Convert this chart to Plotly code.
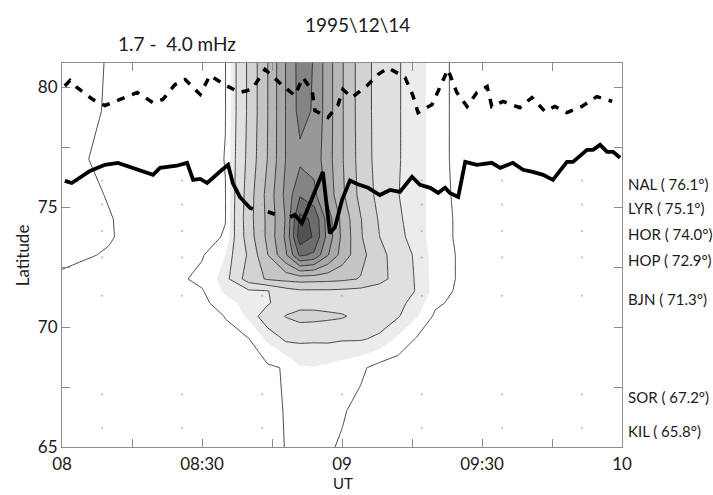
import plotly.graph_objects as go

# ---------------- data ----------------
# grid times (minutes after 08:00 UT) and latitudes of the gridded pulsation power
grid_minutes = [0, 5, 10, 15, 20, 25, 30, 35, 40, 44, 48, 51, 54, 57, 60, 64, 68, 72, 76, 80, 85, 90, 100, 110, 120]
grid_lats = [65, 66.5, 68.3, 69.5, 70.45, 71.0, 71.5, 72.0, 73.0, 73.75, 74.5, 75.5, 77, 79, 81]
power = [
    [1.5, 1.5, 1.5, 1.55, 1.55, 1.6, 1.65, 1.7, 1.8, 1.9, 2.01, 2.1, 2.1, 2.05, 1.95, 1.8, 1.7, 1.65, 1.6, 1.6, 1.6, 1.6, 1.6, 1.6, 1.6],
    [1.5, 1.5, 1.5, 1.55, 1.55, 1.6, 1.65, 1.7, 1.8, 1.9, 2.02, 2.2, 2.2, 2.15, 2.05, 1.85, 1.7, 1.65, 1.6, 1.6, 1.6, 1.6, 1.6, 1.6, 1.6],
    [1.4, 1.45, 1.5, 1.5, 1.55, 1.6, 1.65, 1.7, 1.8, 1.9, 2.05, 2.45, 2.48, 2.4, 2.3, 2.1, 1.8, 1.7, 1.65, 1.6, 1.6, 1.6, 1.6, 1.6, 1.6],
    [1.35, 1.4, 1.45, 1.5, 1.55, 1.6, 1.7, 1.85, 1.98, 2.6, 3.1, 3.1, 3.08, 3.1, 3.05, 3.05, 2.9, 2.4, 1.95, 1.75, 1.65, 1.6, 1.6, 1.6, 1.6],
    [1.3, 1.35, 1.4, 1.45, 1.5, 1.55, 1.7, 2.02, 2.6, 3.4, 4.05, 4.35, 4.3, 4.2, 4.1, 3.7, 3.3, 3.05, 2.55, 1.9, 1.7, 1.6, 1.6, 1.6, 1.6],
    [1.3, 1.35, 1.4, 1.45, 1.5, 1.65, 1.85, 2.3, 2.7, 2.9, 3.45, 3.6, 3.65, 3.6, 3.55, 3.5, 3.35, 3.15, 2.8, 2.1, 1.85, 1.7, 1.6, 1.6, 1.6],
    [1.25, 1.3, 1.35, 1.45, 1.5, 1.7, 1.95, 2.6, 2.85, 2.95, 3.6, 3.85, 3.85, 3.85, 3.8, 3.7, 3.5, 3.25, 2.97, 2.3, 1.9, 1.75, 1.6, 1.6, 1.6],
    [1.1, 1.2, 1.3, 1.4, 1.55, 1.9, 2.15, 2.7, 4.5, 5.1, 5.3, 5.4, 5.35, 5.3, 5.2, 4.95, 4.35, 3.6, 2.9, 2.3, 1.95, 1.75, 1.6, 1.6, 1.6],
    [0.85, 0.95, 1.05, 1.3, 1.5, 1.75, 1.95, 2.5, 4.15, 5.95, 7.9, 10.2, 9.8, 8.05, 6.6, 5.3, 4.35, 3.5, 2.85, 2.3, 1.95, 1.75, 1.6, 1.6, 1.6],
    [0.75, 0.85, 0.95, 1.15, 1.4, 1.6, 1.8, 2.05, 4.5, 6.2, 8.2, 11.6, 10.9, 8.6, 6.8, 5.1, 4.02, 3.2, 2.7, 2.3, 1.9, 1.7, 1.6, 1.6, 1.6],
    [0.7, 0.8, 0.95, 1.2, 1.45, 1.6, 1.75, 1.98, 4.6, 6.2, 8.1, 11.3, 10.8, 8.5, 6.7, 5.05, 3.9, 3.1, 2.7, 2.3, 1.9, 1.7, 1.6, 1.6, 1.6],
    [0.6, 0.8, 1.05, 1.3, 1.5, 1.6, 1.7, 1.98, 4.5, 6.3, 8.3, 9.9, 9.3, 7.6, 6.2, 4.7, 3.7, 3.02, 2.7, 2.3, 1.85, 1.7, 1.6, 1.6, 1.6],
    [0.7, 0.95, 1.3, 1.5, 1.55, 1.6, 1.7, 2.02, 4.3, 6.0, 8.05, 8.75, 8.6, 7.4, 6.1, 4.6, 3.6, 3.05, 2.7, 2.3, 1.8, 1.7, 1.6, 1.6, 1.6],
    [0.62, 0.82, 1.08, 1.4, 1.5, 1.6, 1.7, 1.98, 4.2, 5.95, 8.05, 9.35, 8.9, 7.45, 6.1, 4.55, 3.6, 3.05, 2.7, 2.3, 1.8, 1.7, 1.6, 1.6, 1.6],
    [0.6, 0.8, 1.05, 1.4, 1.5, 1.6, 1.7, 1.98, 4.2, 5.95, 8.05, 9.4, 8.95, 7.45, 6.1, 4.55, 3.6, 3.05, 2.7, 2.3, 1.8, 1.7, 1.6, 1.6, 1.6],
]

# poleward boundary (dashed)
dash_minutes = [0.6, 1.7, 3.2, 6.6, 9.2, 12.4, 16.1, 19.5, 21.6, 24.2, 26.4, 29.6, 31.7, 35.4, 38.1, 40.7,
                43.5, 47.4, 49.9, 51.6, 53.6, 54.2, 57.0, 59.1, 60.2, 62.1, 65.4, 67.7, 69.9, 73.5, 75.2,
                76.3, 79.3, 82.7, 84.6, 86.8, 88.9, 91.1, 92.1, 94.5, 98.1, 100.7, 103.5, 105.6, 108.2,
                111.4, 114.6, 117.9]
dash_lats = [80.04, 80.27, 79.98, 79.48, 79.23, 79.48, 79.77, 79.35, 79.48, 80.10, 80.31, 79.69, 80.48,
             80.04, 79.77, 79.90, 80.73, 80.04, 79.64, 80.40, 79.85, 79.02, 78.73, 79.23, 79.90, 79.56,
             80.06, 80.52, 80.80, 80.40, 79.64, 78.93, 79.27, 80.73, 79.77, 79.19, 79.77, 80.02, 79.19,
             79.40, 79.14, 79.56, 78.98, 79.19, 78.93, 79.19, 79.60, 79.40]

# equatorward boundary (thick solid, with data gaps)
solid_minutes = [0.6, 2.1, 6.0, 9.2, 12.0, 16.1, 19.5, 21.0, 24.6, 26.8, 28.1, 29.6, 31.1, 34.3, 35.6,
                 36.6, 38.1, 40.3, 40.9, None, 44.1, 45.6, None, 48.9, 49.9, 51.4, 55.9, 57.4, 58.5,
                 60.0, 61.7, 63.4, 65.6, 68.1, 70.3, 72.4, 75.0, 76.7, 78.9, 80.6, 82.1, 83.1, 84.9,
                 86.4, 88.9, 92.1, 93.9, 96.6, 98.8, 100.9, 103.1, 105.2, 108.2, 109.5, 112.5, 113.8,
                 115.3, 116.8, 118.1, 119.6]
solid_lats = [76.09, 76.0, 76.5, 76.76, 76.84, 76.55, 76.34, 76.63, 76.72, 76.84, 76.13, 76.17, 76.0,
              76.55, 76.76, 76.0, 75.42, 74.96, 74.92, None, 74.8, 74.7, None, 74.58, 74.67, 74.33,
              76.46, 73.91, 74.16, 75.29, 76.1, 75.95, 75.8, 75.5, 75.71, 75.63, 76.26, 75.92, 75.8,
              75.59, 75.8, 75.59, 75.42, 76.88, 76.76, 76.84, 76.63, 76.84, 76.55, 76.46, 76.34,
              76.13, 76.88, 76.88, 77.38, 77.38, 77.59, 77.3, 77.3, 77.05]

station_codes = ["NAL", "LYR", "HOR", "HOP", "BJN", "SOR", "KIL"]
station_lats = [76.1, 75.1, 74.0, 72.9, 71.3, 67.2, 65.8]
sample_minutes = [8.6, 25.7, 42.9, 60.0, 77.1, 94.3, 111.4]

x_tickvals = [0, 15, 30, 45, 60, 75, 90, 105, 120]
x_ticktext = ["08", "", "08:30", "", "09", "", "09:30", "", "10"]
y_tickvals = [65, 67.5, 70, 72.5, 75, 77.5, 80]
y_ticktext = ["65", "", "70", "", "75", "", "80"]

# ---------------- styling ----------------
def band_gray(m):
    if m < 2.5:
        return 255
    if m < 3:
        return 236
    steps = {3: 224, 4: 211, 5: 197, 6: 183, 7: 168, 8: 152, 9: 132, 10: 108, 11: 82, 12: 82}
    return steps[min(int(m), 12)]

fill_start, fill_end, fill_size = 1.0, 12.0, 0.5
n_bands = 23
colorscale = []
for i in range(n_bands + 1):
    m = fill_start - fill_size / 2 + fill_size * i
    g = band_gray(m)
    colorscale.append([i / n_bands, f"rgb({g},{g},{g})"])

fig = go.Figure()

fig.add_trace(go.Contour(
    x=grid_minutes, y=grid_lats, z=power,
    autocontour=False,
    contours=dict(start=fill_start, end=fill_end, size=fill_size, coloring="fill", showlines=False),
    colorscale=colorscale, showscale=False,
    line=dict(width=0, smoothing=0),
    hoverinfo="skip",
))

fig.add_trace(go.Contour(
    x=grid_minutes, y=grid_lats, z=power,
    autocontour=False,
    contours=dict(start=1, end=12, size=1, coloring="none", showlines=True),
    line=dict(color="#1e1e1e", width=0.8, smoothing=0),
    showscale=False, hoverinfo="skip",
))

fig.add_trace(go.Scatter(
    x=[t for t in sample_minutes for _ in station_lats],
    y=[la for _ in sample_minutes for la in station_lats],
    mode="markers", marker=dict(size=2, color="#b5b5b5"), hoverinfo="skip",
))

fig.add_trace(go.Scatter(
    x=dash_minutes, y=dash_lats, mode="lines",
    line=dict(color="black", width=3.5, dash="8px,8px"),
))

fig.add_trace(go.Scatter(
    x=solid_minutes, y=solid_lats, mode="lines", connectgaps=False,
    line=dict(color="black", width=3.8),
))

axis_gray = "#8c8c8c"
font_family = "Lato, 'Open Sans', sans-serif"

fig.update_layout(
    width=713, height=495,
    margin=dict(l=62, r=91, t=63, b=48),
    paper_bgcolor="white", plot_bgcolor="white",
    showlegend=False,
    font=dict(family=font_family, size=17, color="#1a1a1a"),
    xaxis=dict(range=[0, 120], tickmode="array", tickvals=x_tickvals, ticktext=x_ticktext,
               ticks="inside", ticklen=8, tickcolor=axis_gray, tickwidth=1,
               showline=True, linecolor=axis_gray, linewidth=1, mirror="ticks",
               showgrid=False, zeroline=False, tickfont=dict(size=17), ticklabelstandoff=2),
    yaxis=dict(range=[65, 81], tickmode="array", tickvals=y_tickvals, ticktext=y_ticktext,
               ticks="inside", ticklen=8, tickcolor=axis_gray, tickwidth=1,
               showline=True, linecolor=axis_gray, linewidth=1, mirror="ticks",
               showgrid=False, zeroline=False, tickfont=dict(size=17)),
)

annotations = [
    dict(text="1995\\12\\14", x=0.527, y=1.099, xref="paper", yref="paper",
         xanchor="center", yanchor="middle", showarrow=False, font=dict(size=19)),
    dict(text="1.7 -&nbsp; 4.0 mHz", x=0.205, y=1.052, xref="paper", yref="paper",
         xanchor="center", yanchor="middle", showarrow=False, font=dict(size=19)),
    dict(text="Latitude", x=-0.071, y=0.5, xref="paper", yref="paper", textangle=-90,
         xanchor="center", yanchor="middle", showarrow=False, font=dict(size=17)),
    dict(text="UT", x=0.502, y=-0.122, xref="paper", yref="paper",
         xanchor="center", yanchor="bottom", showarrow=False, font=dict(size=15)),
]
for code, la in zip(station_codes, station_lats):
    annotations.append(dict(text=f"{code} ( {la:.1f}°)", x=1.008, y=la, xref="paper", yref="y",
                            xanchor="left", yanchor="middle", yshift=-3, showarrow=False,
                            font=dict(size=15)))
fig.update_layout(annotations=annotations)

fig.write_html("out.html")
